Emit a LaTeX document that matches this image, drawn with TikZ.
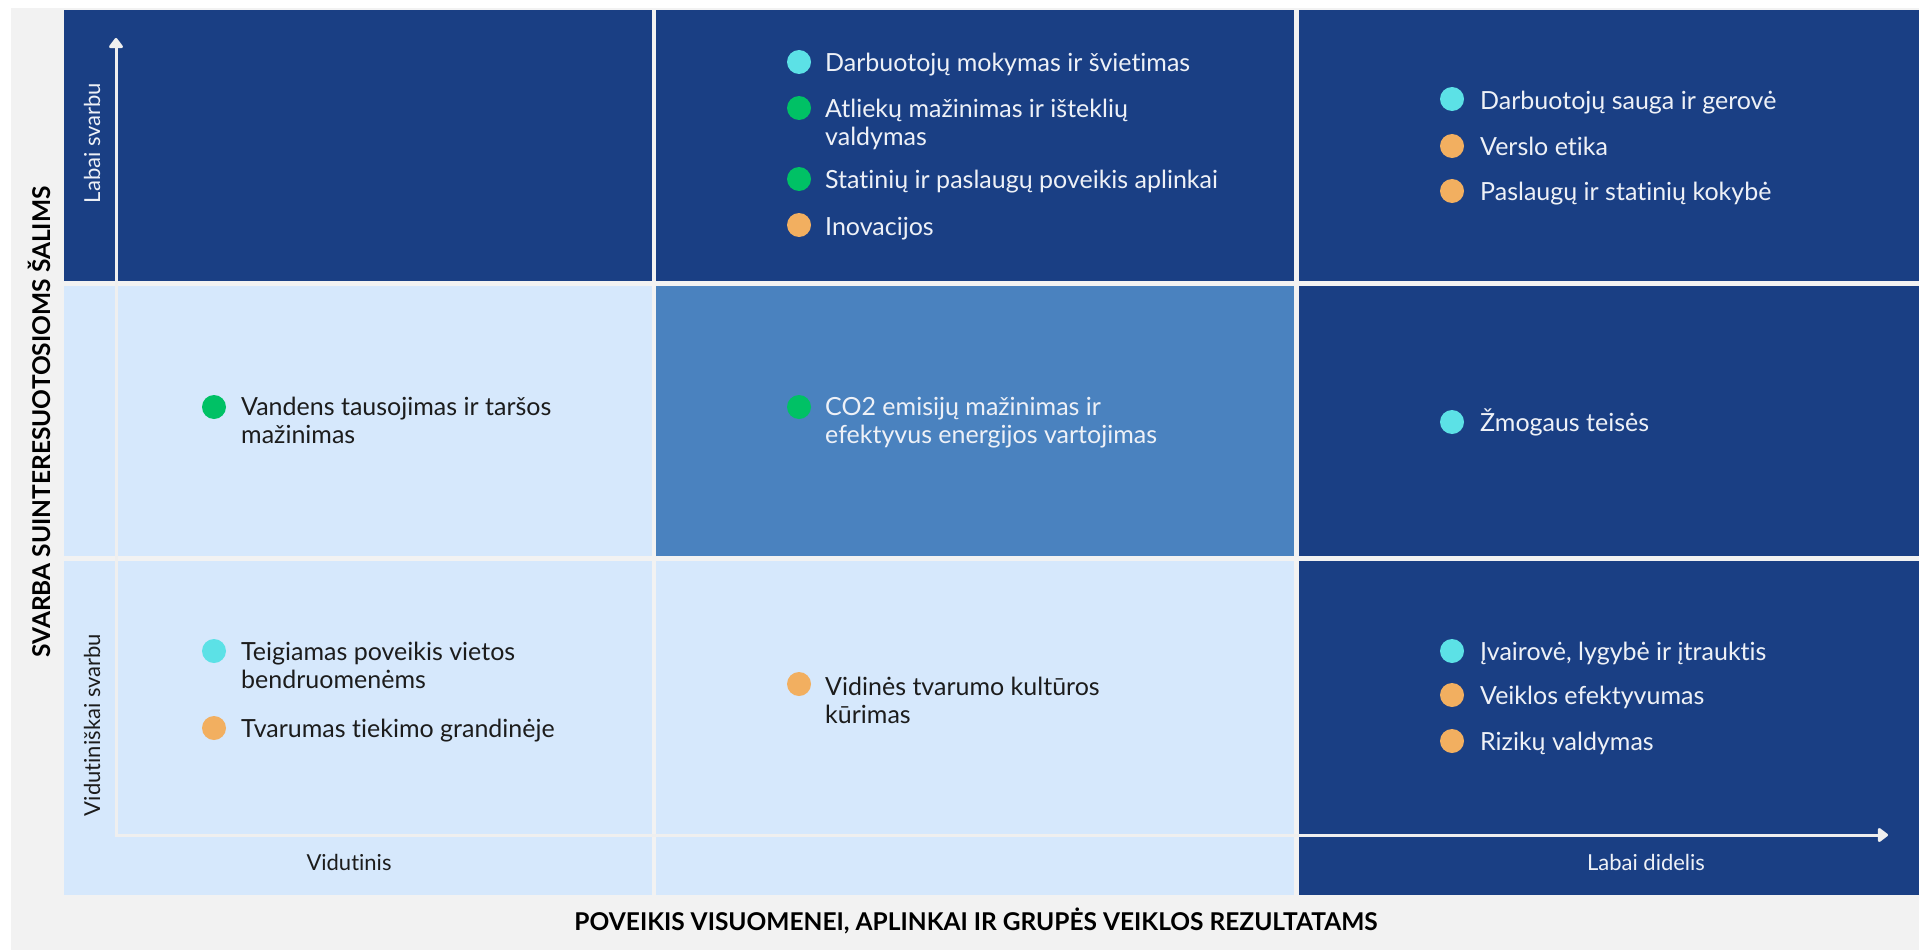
\documentclass[tikz,border=0pt]{standalone}
\usepackage{fontspec}
\setmainfont{Lato}[Ligatures={NoCommon}]
\usetikzlibrary{arrows.meta}
\definecolor{darkb}{HTML}{1A3F84}
\definecolor{lightb}{HTML}{D6E8FC}
\definecolor{midb}{HTML}{4A82BF}
\definecolor{panel}{HTML}{F2F2F2}
\definecolor{cyanD}{HTML}{5CE1E6}
\definecolor{greenD}{HTML}{00C165}
\definecolor{orangeD}{HTML}{F2AF60}
\definecolor{txtlight}{HTML}{EEF1F7}
\definecolor{txtdark}{HTML}{1C1C1C}
\definecolor{axiscol}{HTML}{EFEFEF}
\tikzset{
  dot/.style={circle, minimum size=24pt, inner sep=0pt, draw=none},
  itembase/.style={anchor=base west, inner sep=0pt, font=\fontsize{25}{28}\selectfont},
  itemL/.style={itembase, text=txtlight},
  itemD/.style={itembase, text=txtdark},
  axlab/.style={inner sep=0pt, anchor=base, font=\fontsize{22}{24}\selectfont},
  titlelab/.style={inner sep=0pt, anchor=base, text=black, font=\bfseries\fontsize{24.5}{28}\selectfont},
  axisline/.style={draw=axiscol, line width=3pt, line join=miter,
    {Triangle[width=16pt,length=11pt,round]}-{Triangle[width=16pt,length=11pt,round]}}
}
\begin{document}
\begin{tikzpicture}[x=1pt,y=-1pt]
\useasboundingbox (0,0) rectangle (1919,950);
\fill[white] (0,0) rectangle (1919,950);
\fill[panel] (11,8) rectangle (1919,950);
% cells
\fill[darkb]  (64,10)   rectangle (652,281);
\fill[darkb]  (656,10)  rectangle (1294,281);
\fill[darkb]  (1299,10) rectangle (1919,281);
\fill[lightb] (64,286)  rectangle (652,556);
\fill[midb]   (656,286) rectangle (1294,556);
\fill[darkb]  (1299,286) rectangle (1919,556);
\fill[lightb] (64,561)  rectangle (652,895);
\fill[lightb] (656,561) rectangle (1294,895);
\fill[darkb]  (1299,561) rectangle (1919,895);
% axes
\coordinate (ytip) at (116,38);
\coordinate (origin) at (116,835);
\coordinate (xtip) at (1888,835);
\draw[axisline] (ytip) -- (origin) -- (xtip);
% axis labels
\node[axlab, text=txtlight, rotate=90] (labsv) at (100,143) {Labai svarbu};
\node[axlab, text=txtdark, rotate=90] (vidsv) at (100,725) {Vidutiniškai svarbu};
\node[axlab, text=txtdark] (vidut) at (349,870) {Vidutinis};
\node[axlab, text=txtlight] (labdid) at (1646,870) {Labai didelis};
% titles
\node[titlelab, rotate=90] (ytitle) at (50,422) {SVARBA SUINTERESUOTOSIOMS ŠALIMS};
\node[titlelab] (xtitle) at (976,930) {POVEIKIS VISUOMENEI, APLINKAI IR GRUPĖS VEIKLOS REZULTATAMS};
% column 2, row 1
\node[dot, fill=cyanD] (d21a) at (799,62) {};
\node[itemL] (t21a) at (825,71) {Darbuotojų mokymas ir švietimas};
\node[dot, fill=greenD] (d21b) at (799,108) {};
\node[itemL] (t21b) at (825,117) {Atliekų mažinimas ir išteklių};
\node[itemL] (t21b2) at (825,145) {valdymas};
\node[dot, fill=greenD] (d21c) at (799,179) {};
\node[itemL] (t21c) at (825,188) {Statinių ir paslaugų poveikis aplinkai};
\node[dot, fill=orangeD] (d21d) at (799,225) {};
\node[itemL] (t21d) at (825,235) {Inovacijos};
% column 3, row 1
\node[dot, fill=cyanD] (d31a) at (1452,99) {};
\node[itemL] (t31a) at (1480,109) {Darbuotojų sauga ir gerovė};
\node[dot, fill=orangeD] (d31b) at (1452,146) {};
\node[itemL] (t31b) at (1480,155) {Verslo etika};
\node[dot, fill=orangeD] (d31c) at (1452,191) {};
\node[itemL] (t31c) at (1480,200) {Paslaugų ir statinių kokybė};
% column 1, row 2
\node[dot, fill=greenD] (d12a) at (214,407) {};
\node[itemD] (t12a) at (241,415) {Vandens tausojimas ir taršos};
\node[itemD] (t12a2) at (241,443) {mažinimas};
% column 2, row 2
\node[dot, fill=greenD] (d22a) at (799,407) {};
\node[itemL] (t22a) at (825,415) {CO2 emisijų mažinimas ir};
\node[itemL] (t22a2) at (825,443) {efektyvus energijos vartojimas};
% column 3, row 2
\node[dot, fill=cyanD] (d32a) at (1452,422) {};
\node[itemL] (t32a) at (1480,431) {Žmogaus teisės};
% column 1, row 3
\node[dot, fill=cyanD] (d13a) at (214,651) {};
\node[itemD] (t13a) at (241,660) {Teigiamas poveikis vietos};
\node[itemD] (t13a2) at (241,688) {bendruomenėms};
\node[dot, fill=orangeD] (d13b) at (214,728) {};
\node[itemD] (t13b) at (241,737) {Tvarumas tiekimo grandinėje};
% column 2, row 3
\node[dot, fill=orangeD] (d23a) at (799,684) {};
\node[itemD] (t23a) at (825,695) {Vidinės tvarumo kultūros};
\node[itemD] (t23a2) at (825,723) {kūrimas};
% column 3, row 3
\node[dot, fill=cyanD] (d33a) at (1452,651) {};
\node[itemL] (t33a) at (1480,660) {Įvairovė, lygybė ir įtrauktis};
\node[dot, fill=orangeD] (d33b) at (1452,695) {};
\node[itemL] (t33b) at (1480,704) {Veiklos efektyvumas};
\node[dot, fill=orangeD] (d33c) at (1452,741) {};
\node[itemL] (t33c) at (1480,750) {Rizikų valdymas};
\end{tikzpicture}
\end{document}
